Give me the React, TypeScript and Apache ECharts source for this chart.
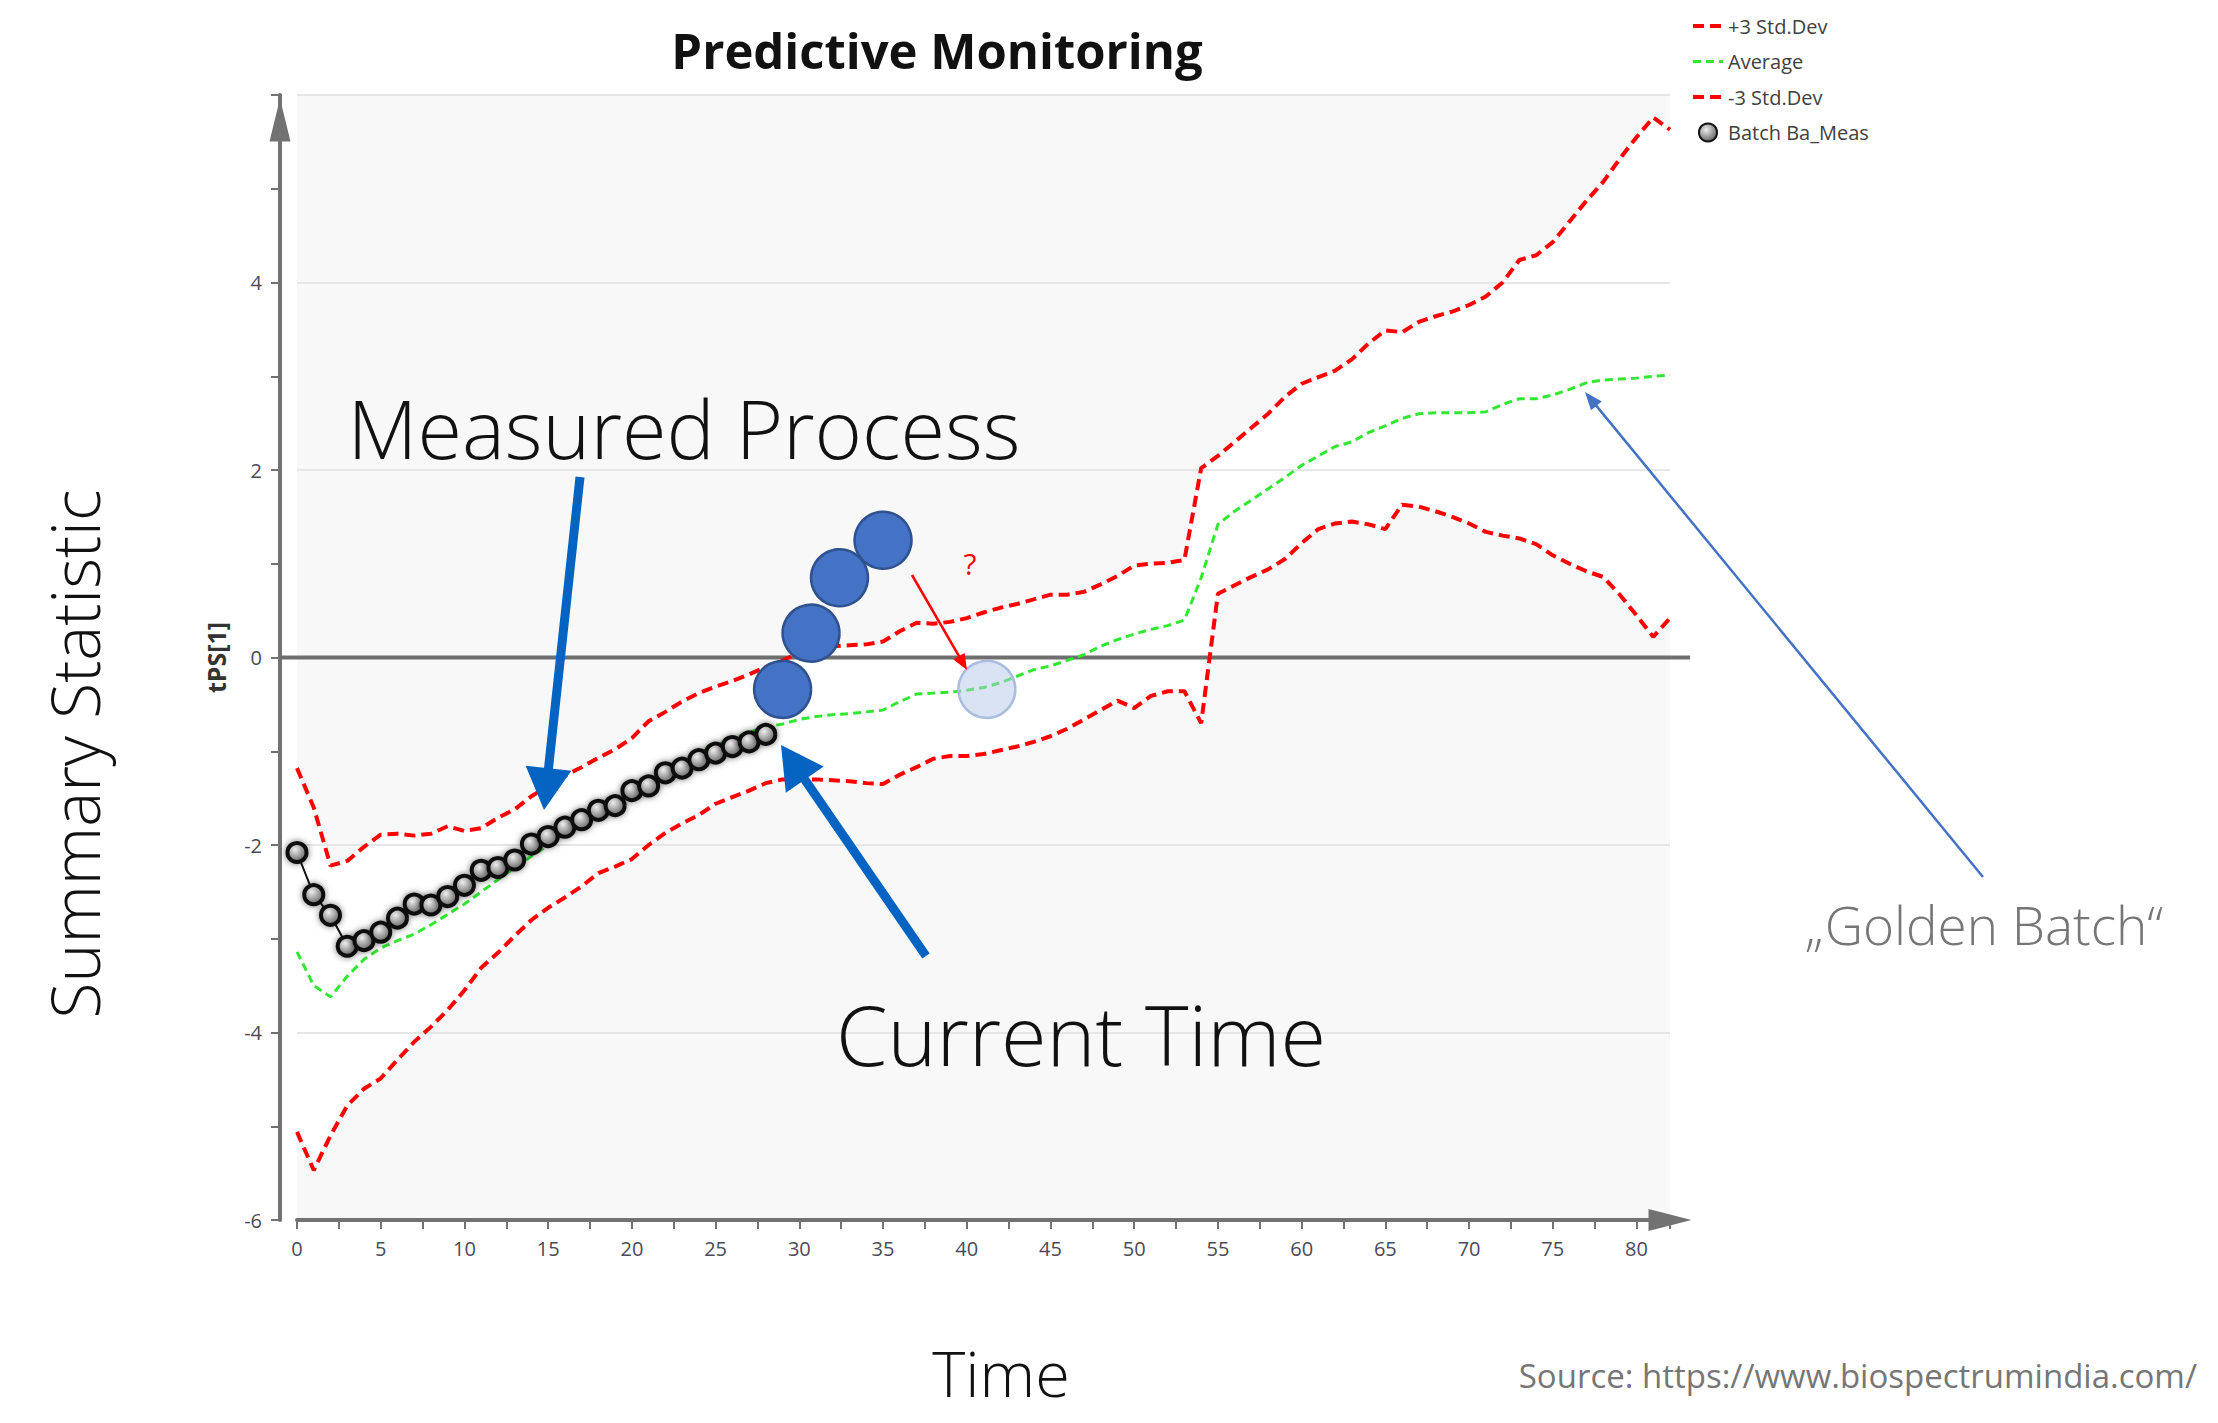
import React, { useEffect, useRef } from "react";
import * as echarts from "echarts";

// ---- Data ----
const upperSD = [
  -1.18, -1.60, -2.22, -2.17, -2.02, -1.89, -1.88, -1.90, -1.88, -1.80,
  -1.85, -1.82, -1.71, -1.62, -1.48, -1.37, -1.26, -1.17, -1.07, -0.98,
  -0.86, -0.68, -0.58, -0.47, -0.38, -0.31, -0.25, -0.18, -0.10, -0.03,
  0.05, 0.09, 0.12, 0.13, 0.14, 0.17, 0.28, 0.37, 0.36, 0.38,
  0.42, 0.48, 0.53, 0.57, 0.62, 0.67, 0.67, 0.70, 0.78, 0.87,
  0.98, 1.00, 1.01, 1.04, 2.02, 2.15, 2.30, 2.45, 2.60, 2.78,
  2.92, 2.99, 3.06, 3.18, 3.35, 3.49, 3.47, 3.58, 3.64, 3.69,
  3.76, 3.85, 4.00, 4.24, 4.29, 4.43, 4.65, 4.87, 5.07, 5.32,
  5.55, 5.76, 5.63,
];

const average = [
  -3.14, -3.50, -3.62, -3.40, -3.22, -3.10, -3.02, -2.95, -2.85, -2.74,
  -2.63, -2.50, -2.37, -2.24, -2.12, -2.00, -1.87, -1.74, -1.62, -1.51,
  -1.41, -1.31, -1.21, -1.11, -1.02, -0.94, -0.87, -0.80, -0.74, -0.71,
  -0.66, -0.63, -0.61, -0.60, -0.58, -0.56, -0.47, -0.39, -0.38, -0.37,
  -0.35, -0.32, -0.27, -0.20, -0.13, -0.09, -0.03, 0.03, 0.12, 0.19,
  0.25, 0.30, 0.34, 0.40, 0.85, 1.42, 1.56, 1.68, 1.80, 1.92,
  2.05, 2.15, 2.25, 2.30, 2.40, 2.47, 2.55, 2.60, 2.61, 2.61,
  2.61, 2.62, 2.70, 2.76, 2.76, 2.80, 2.86, 2.93, 2.96, 2.97,
  2.98, 3.00, 3.01,
];

const lowerSD = [
  -5.06, -5.47, -5.10, -4.78, -4.60, -4.49, -4.29, -4.10, -3.94, -3.76,
  -3.55, -3.31, -3.15, -2.97, -2.80, -2.67, -2.56, -2.44, -2.30, -2.23,
  -2.15, -2.00, -1.87, -1.77, -1.68, -1.56, -1.49, -1.42, -1.34, -1.30,
  -1.30, -1.30, -1.31, -1.32, -1.34, -1.35, -1.25, -1.17, -1.08, -1.05,
  -1.05, -1.03, -0.99, -0.95, -0.90, -0.84, -0.76, -0.66, -0.56, -0.46,
  -0.54, -0.41, -0.36, -0.36, -0.70, 0.68, 0.77, 0.86, 0.94, 1.05,
  1.22, 1.37, 1.43, 1.45, 1.42, 1.37, 1.63, 1.61, 1.56, 1.50,
  1.43, 1.34, 1.30, 1.27, 1.21, 1.09, 1.00, 0.92, 0.86, 0.67,
  0.45, 0.22, 0.42,
];

const batchMeas = [
  -2.08, -2.53, -2.75, -3.08, -3.02, -2.93, -2.78, -2.63, -2.64, -2.55,
  -2.43, -2.27, -2.24, -2.16, -1.99, -1.91, -1.81, -1.73, -1.63, -1.58,
  -1.42, -1.37, -1.23, -1.18, -1.09, -1.02, -0.95, -0.90, -0.82,
];

const predictedX = [29.0, 30.7, 32.4, 35.0];
const predictedY = [-0.34, 0.26, 0.85, 1.25];
const expectedX = [41.2];
const expectedY = [-0.34];

// zero reference line runs from the y-axis to the x-axis arrow tip
const zeroLineX = [0, 83.2];

const legendNames = ["+3 Std.Dev", "Average", "-3 Std.Dev", "Batch Ba_Meas"];

const FONT = '"Open Sans", "Noto Sans", sans-serif';
const Y_AXIS_OFFSET = 17;

const RED_ICON = "path://M0,0L0,0.01M30,18L30,17.99M0,7H11V11H0ZM17,7H28V11H17Z";
const GREEN_ICON = "path://M0,0L0,0.01M30,18L30,17.99M0,7.5H8V10.5H0ZM13,7.5H21V10.5H13ZM26,7.5H30V10.5H26Z";

function toPairs(vals: number[]) {
  return vals.map((v, i) => [i, v]);
}

function arrowPoints(x1: number, y1: number, x2: number, y2: number, sw: number, hl: number, hw: number) {
  const dx = x2 - x1, dy = y2 - y1;
  const L = Math.hypot(dx, dy);
  const ux = dx / L, uy = dy / L;
  const nx = -uy, ny = ux;
  const bx = x2 - ux * hl, by = y2 - uy * hl;
  return [
    [x1 + (nx * sw) / 2, y1 + (ny * sw) / 2],
    [bx + (nx * sw) / 2, by + (ny * sw) / 2],
    [bx + (nx * hw) / 2, by + (ny * hw) / 2],
    [x2, y2],
    [bx - (nx * hw) / 2, by - (ny * hw) / 2],
    [bx - (nx * sw) / 2, by - (ny * sw) / 2],
    [x1 - (nx * sw) / 2, y1 - (ny * sw) / 2],
  ];
}

export default function App() {
  const ref = useRef<HTMLDivElement>(null);

  useEffect(() => {
    if (!ref.current) return;
    const chart = echarts.init(ref.current, null, { renderer: "svg" });

    const batchFill = new echarts.graphic.RadialGradient(0.4, 0.35, 0.7, [
      { offset: 0, color: "#eeeeee" },
      { offset: 1, color: "#5c5c5c" },
    ]);

    const redDash = { color: "#ff0000", width: 4, type: [11, 6] as number[] };
    const greenDash = { color: "#2fe82f", width: 3, type: [8, 5] as number[] };

    const textEl = (text: string, x: number, y: number, size: number, fill: string, extra: any = {}, align = "center") => ({
      type: "text",
      x,
      y,
      z: 100,
      ...extra,
      style: { text, fontSize: size, fontWeight: extra.weight || "normal", fontFamily: FONT, fill, textAlign: align, textVerticalAlign: "middle" },
    });

    const graphics: any[] = [
      textEl("Summary Statistic", 74, 754, 66, "#111", { rotation: Math.PI / 2, weight: 300 }),
      textEl("Time", 1001, 1372, 63, "#111", { weight: 300 }),
      textEl("Source: https://www.biospectrumindia.com/", 2197, 1375, 33, "#767676", {}, "right"),
      textEl("\u201EGolden Batch\u201C", 1984, 924, 53, "#767676", { weight: 300 }),
      textEl("Measured Process", 684, 427, 81, "#111", { weight: 300 }),
      textEl("Current Time", 1081, 1033, 83, "#111", { weight: 300 }),
      textEl("?", 970, 563, 30, "#ff0000"),
      { type: "polygon", z: 100, shape: { points: arrowPoints(580, 477, 544, 810, 9, 42, 46) }, style: { fill: "#0563c1" } },
      { type: "polygon", z: 100, shape: { points: arrowPoints(926, 956, 781, 745, 9, 42, 46) }, style: { fill: "#0563c1" } },
      { type: "polygon", z: 100, shape: { points: arrowPoints(912, 575, 967, 670, 2.5, 16, 13) }, style: { fill: "#ff0000" } },
      { type: "polygon", z: 100, shape: { points: arrowPoints(1983, 877, 1585, 392, 2.5, 18, 14) }, style: { fill: "#4472c4" } },
    ];

    const option: any = {
      animation: false,
      backgroundColor: "#ffffff",
      textStyle: { fontFamily: FONT },
      title: {
        text: "Predictive Monitoring",
        left: 932,
        top: 20,
        textAlign: "center",
        textStyle: { fontSize: 49, fontWeight: "bold", color: "#111", fontFamily: FONT },
      },
      legend: {
        orient: "vertical",
        left: 1693,
        top: 16,
        padding: 0,
        itemGap: 15.5,
        itemWidth: 30,
        itemHeight: 18,
        textStyle: { fontSize: 20, color: "#404040", fontFamily: FONT },
        data: [
          { name: legendNames[0], icon: RED_ICON, itemStyle: { color: "#ff0000", borderWidth: 0 } },
          { name: legendNames[1], icon: GREEN_ICON, itemStyle: { color: "#2fe82f", borderWidth: 0 } },
          { name: legendNames[2], icon: RED_ICON, itemStyle: { color: "#ff0000", borderWidth: 0 } },
          { name: legendNames[3], icon: "circle" },
        ],
      },
      grid: {
        left: 297,
        right: 548,
        top: 95,
        bottom: 203,
        show: true,
        backgroundColor: "#f8f8f8",
        borderWidth: 0,
        containLabel: false,
      },
      xAxis: {
        type: "value",
        min: 0,
        max: 82,
        interval: 2.5,
        z: 3,
        axisLine: {
          onZero: false,
          lineStyle: { color: "#727272", width: 4 },
          symbol: ["none", "triangle"],
          symbolSize: [22, 43],
        },
        axisTick: { show: true, length: 9, lineStyle: { color: "#727272", width: 2 } },
        axisLabel: {
          interval: 0,
          margin: 18,
          fontSize: 20,
          color: "#4a4a5a",
          fontFamily: FONT,
          formatter: (v: number) => (v % 5 === 0 && v <= 80 ? String(v) : ""),
        },
        splitLine: { show: false },
      },
      yAxis: {
        type: "value",
        min: -6,
        max: 6,
        interval: 2,
        offset: Y_AXIS_OFFSET,
        z: 1.5,
        name: "tPS[1]",
        nameLocation: "middle",
        nameRotate: 90,
        nameGap: 52,
        nameTextStyle: { fontSize: 25, fontWeight: "bold", color: "#333", fontFamily: FONT },
        axisLine: {
          onZero: false,
          lineStyle: { color: "#727272", width: 4 },
          symbol: ["none", "triangle"],
          symbolSize: [21, 43],
          symbolOffset: [0, -25],
        },
        axisTick: { show: true, length: 9, lineStyle: { color: "#727272", width: 2 } },
        minorTick: { show: true, splitNumber: 2, length: 9, lineStyle: { color: "#727272", width: 2 } },
        axisLabel: {
          margin: 18,
          fontSize: 20,
          color: "#4a4a5a",
          fontFamily: FONT,
          formatter: (v: number) => (v < 6 ? String(v) : ""),
        },
        splitLine: { show: true, lineStyle: { color: "#e6e6e6", width: 2 } },
      },
      series: [
        {
          name: "_bandUpper",
          type: "line",
          data: toPairs(upperSD),
          symbol: "none",
          silent: true,
          z: 1,
          lineStyle: { opacity: 0 },
          areaStyle: { color: "#ffffff", opacity: 1, origin: "start" },
        },
        {
          name: "_bandLower",
          type: "line",
          data: toPairs(lowerSD),
          symbol: "none",
          silent: true,
          z: 1,
          lineStyle: { opacity: 0 },
          areaStyle: { color: "#f8f8f8", opacity: 1, origin: "start" },
        },
        {
          name: legendNames[0],
          type: "line",
          data: toPairs(upperSD),
          symbol: "none",
          z: 2,
          itemStyle: { color: "#ff0000" },
          lineStyle: redDash,
        },
        {
          name: legendNames[1],
          type: "line",
          data: toPairs(average),
          symbol: "none",
          z: 2,
          itemStyle: { color: "#2fe82f" },
          lineStyle: greenDash,
        },
        {
          name: legendNames[2],
          type: "line",
          data: toPairs(lowerSD),
          symbol: "none",
          z: 2,
          itemStyle: { color: "#ff0000" },
          lineStyle: redDash,
        },
        {
          name: legendNames[3],
          type: "line",
          data: toPairs(batchMeas),
          symbol: "circle",
          symbolSize: 19,
          showSymbol: true,
          z: 4,
          lineStyle: { color: "#111111", width: 2 },
          itemStyle: {
            color: batchFill,
            borderColor: "#111111",
            borderWidth: 4,
            shadowBlur: 6,
            shadowColor: "rgba(0,0,0,0.55)",
          },
        },
        {
          name: "_predicted",
          type: "scatter",
          data: predictedX.map((x, i) => [x, predictedY[i]]),
          symbol: "circle",
          symbolSize: 57,
          z: 6,
          silent: true,
          itemStyle: { color: "#4472c4", borderColor: "#2f528f", borderWidth: 2.5, opacity: 1 },
        },
        {
          name: "_expected",
          type: "scatter",
          data: expectedX.map((x, i) => [x, expectedY[i]]),
          symbol: "circle",
          symbolSize: 57,
          z: 6,
          silent: true,
          itemStyle: { color: "rgba(180,199,231,0.5)", borderColor: "#aabddf", borderWidth: 2.5, opacity: 1 },
        },
      ],
      graphic: graphics,
    };

    chart.setOption(option);

    // zero reference line, placed through the chart's own scales
    const p0 = chart.convertToPixel({ gridIndex: 0 }, [zeroLineX[0], 0]) as number[];
    const p1 = chart.convertToPixel({ gridIndex: 0 }, [zeroLineX[1], 0]) as number[];
    if (p0 && p1) {
      chart.setOption({
        graphic: [
          ...graphics,
          {
            type: "line",
            z: 1.8,
            silent: true,
            shape: { x1: p0[0] - Y_AXIS_OFFSET, y1: p0[1], x2: p1[0], y2: p1[1] },
            style: { stroke: "#6e6e6e", lineWidth: 4 },
          },
        ],
      });
    }

    return () => chart.dispose();
  }, []);

  return (
    <div
      ref={ref}
      style={{ position: "absolute", left: 0, top: 0, width: 2218, height: 1423, background: "#fff" }}
    />
  );
}
